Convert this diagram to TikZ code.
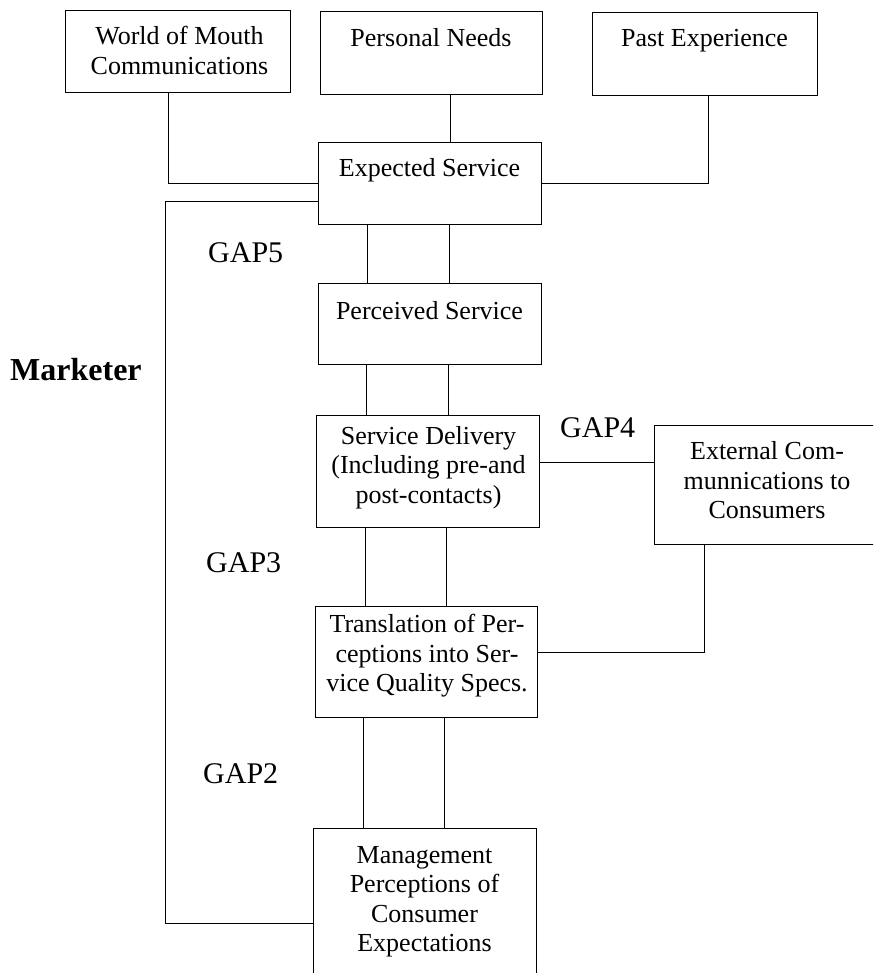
\documentclass[tikz,border=0pt]{standalone}
\usepackage{fontspec}
\setmainfont{Liberation Serif}
\begin{document}
\begin{tikzpicture}[x=1pt,y=-1pt,
  box/.style={draw,line width=1pt,inner sep=0pt},
  txt/.style={anchor=north,align=center,inner sep=0pt,font=\fontsize{26}{29.5}\selectfont},
  gap/.style={anchor=base west,inner sep=0pt,font=\fontsize{30}{34}\selectfont},
  conn/.style={line width=1pt}]
\useasboundingbox (0,0) rectangle (873,973);
\clip (0,0) rectangle (873,973);
% boxes
\node[box,minimum width=225pt,minimum height=82pt] (wom) at (177.5,52) {};
\node[box,minimum width=222pt,minimum height=83pt] (pn) at (431,53.5) {};
\node[box,minimum width=225pt,minimum height=83pt] (pe) at (704.5,54.5) {};
\node[box,minimum width=223pt,minimum height=82pt] (es) at (429.5,184) {};
\node[box,minimum width=223pt,minimum height=81pt] (ps) at (429.5,323.5) {};
\node[box,minimum width=223pt,minimum height=112pt] (sd) at (427.5,471) {};
\node[box,minimum width=240pt,minimum height=119pt] (ec) at (774,484.5) {};
\node[box,minimum width=222pt,minimum height=111pt] (tr) at (426,661.5) {};
\node[box,minimum width=223pt,minimum height=160pt] (mg) at (424.5,908) {};
% texts
\node[txt] (womt) at ([xshift=2pt,yshift=-15.5pt]wom.north) {World of Mouth\\Communications};
\node[txt] (pnt) at ([yshift=-16.5pt]pn.north) {Personal Needs};
\node[txt] (pet) at ([yshift=-16.5pt]pe.north) {Past Experience};
\node[txt] (est) at ([yshift=-15.5pt]es.north) {Expected Service};
\node[txt] (pst) at ([yshift=-18.5pt]ps.north) {Perceived Service};
\node[txt] (sdt) at ([xshift=1pt,yshift=-11.5pt]sd.north) {Service Delivery\\(Including pre-and\\post-contacts)};
\node[txt] (ect) at (767,441.5) {External Com-\\munnications to\\Consumers};
\node[txt] (trt) at ([xshift=1pt,yshift=-8.5pt]tr.north) {Translation of Per-\\ceptions into Ser-\\vice Quality Specs.};
\node[txt] (mgt) at ([yshift=-18.5pt]mg.north) {Management\\Perceptions of\\Consumer\\Expectations};
% labels
\node[gap] (g5) at (208,263) {GAP5};
\node[gap] (g4) at (560,437) {GAP4};
\node[gap] (g3) at (206,572) {GAP3};
\node[gap] (g2) at (203,783) {GAP2};
\node[anchor=base west,inner sep=0pt,font=\fontsize{32}{36}\selectfont\bfseries] (mk) at (10,380) {Marketer};
% connectors into Expected Service
\draw[conn] ([xshift=-9.5pt]wom.south) |- (es.west);
\draw[conn] ([xshift=19pt]pn.south) -- ([xshift=19pt]pn.south |- es.north);
\draw[conn] ([xshift=3.5pt]pe.south) |- (es.east);
% gap pairs
\draw[conn] ([xshift=-62.5pt]es.south) -- ([xshift=-62.5pt]es.south |- ps.north);
\draw[conn] ([xshift=19.5pt]es.south) -- ([xshift=19.5pt]es.south |- ps.north);
\draw[conn] ([xshift=-63.5pt]ps.south) -- ([xshift=-63.5pt]ps.south |- sd.north);
\draw[conn] ([xshift=18.5pt]ps.south) -- ([xshift=18.5pt]ps.south |- sd.north);
\draw[conn] ([xshift=-62.5pt]sd.south) -- ([xshift=-62.5pt]sd.south |- tr.north);
\draw[conn] ([xshift=18.5pt]sd.south) -- ([xshift=18.5pt]sd.south |- tr.north);
\draw[conn] ([xshift=-63pt]tr.south) -- ([xshift=-63pt]tr.south |- mg.north);
\draw[conn] ([xshift=18pt]tr.south) -- ([xshift=18pt]tr.south |- mg.north);
% external communications
\draw[conn] ([yshift=9pt]sd.east) -- ([yshift=9pt]sd.east -| ec.west);
\draw[conn] ([xshift=-70pt]ec.south) |- ([yshift=9.5pt]tr.east);
% marketer bracket
\coordinate (mk1) at (165,202);
\coordinate (mk2) at (165,923);
\draw[conn] (es.west |- mk1) -- (mk1) -- (mk2) -- (mk2 -| mg.west);
\end{tikzpicture}
\end{document}
